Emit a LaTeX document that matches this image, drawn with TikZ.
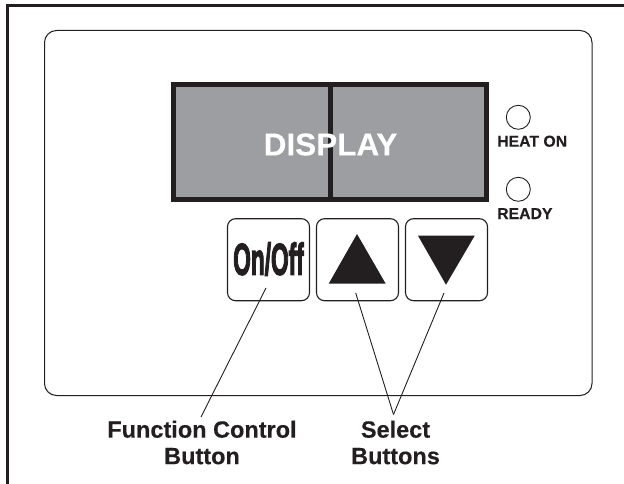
\documentclass[tikz,border=0pt]{standalone}
\usepackage{fontspec}
\setmainfont[BoldFeatures={FakeBold=0.25}]{Liberation Sans}
\newfontfamily\keyfont[FakeBold=3.4]{Liberation Sans Bold}
\usetikzlibrary{positioning, calc}
\definecolor{inkdark}{HTML}{231F20}
\definecolor{displaygray}{HTML}{9D9EA1}

\begin{document}
\begin{tikzpicture}[
    x=1pt, y=-1pt,
    line join=miter,
    panel/.style={draw=inkdark, line width=1pt, rounded corners=12pt},
    keybox/.style={draw=inkdark, line width=1.1pt, rounded corners=8pt, minimum width=82pt, minimum height=82pt, inner sep=0pt, fill=white}, % the three buttons
    arrowhead/.style={fill=inkdark, draw=none},
    led/.style={circle, draw=inkdark, line width=0.9pt, minimum size=24pt, inner sep=0pt},
    ledlabel/.style={text=inkdark, font=\bfseries\fontsize{15.8}{16}\selectfont, inner sep=0pt},
    calllabel/.style={text=inkdark, font=\bfseries\fontsize{23.5}{26.5}\selectfont, align=center, inner sep=0pt},
    leader/.style={draw=inkdark, line width=0.9pt}
]

    % === Page ===
    \path[use as bounding box] (0,0) rectangle (624,484);

    % === Outer frame, open at the bottom and the right ===
    \draw[inkdark, line width=2.5pt] (7.5,484) -- (7.5,5.5) -- (624,5.5);

    % === Panel ===
    \draw[panel] (44.5,30.5) rectangle (592,395.5);

    % === Display ===
    \node[draw=inkdark, line width=5pt, fill=displaygray, minimum width=313pt, minimum height=115pt, inner sep=0pt] (display) at (330,142) {};
    \draw[inkdark, line width=5pt] (display.north) -- (display.south);
    \node[text=white, font=\bfseries\fontsize{31.5}{31.5}\selectfont, inner sep=0pt] (displaytext) at (330.5,144.5) {DISPLAY};

    % === Lamps ===
    \node[led] (heatled) at (518.3,117.3) {};
    \node[led] (readyled) at (518.3,189.3) {};
    \node[ledlabel, anchor=base west] (heatlabel) at (497,146.7) {HEAT ON};
    \node[ledlabel, anchor=base west] (readylabel) at (497,219) {READY};

    % === Buttons ===
    \node[keybox] (onoff) at (268.5,259.7) {};
    \node[keybox] (upkey) at (357.5,259.7) {};
    \node[keybox] (downkey) at (446.5,259.7) {};
    \node[text=inkdark, font=\keyfont\fontsize{44.5}{44.5}\selectfont, xscale=0.51, inner sep=0pt] (onofftext) at (268.5,259) {On/Off};

    % Triangles on the keys
    \fill[arrowhead] (357,234) -- (385.7,283.7) -- (328.7,283.7) -- cycle;
    \fill[arrowhead] (418,235.7) -- (474.7,235.7) -- (446,284.7) -- cycle;

    % === Call-outs ===
    \node[calllabel] (funclabel) at (202,442.5) {Function Control\\Button};
    \node[calllabel] (selectlabel) at (395.5,442.5) {Select\\Buttons};

    \coordinate (onoffend) at (266,288);
    \coordinate (funcend) at (201,417);
    \coordinate (upend) at (355.7,293);
    \coordinate (downend) at (444,293);
    \coordinate (selectend) at (393.5,414.5);

    \draw[leader] (onoffend) -- (funcend);
    \draw[leader] (upend) -- (selectend);
    \draw[leader] (downend) -- (selectend);

\end{tikzpicture}
\end{document}
